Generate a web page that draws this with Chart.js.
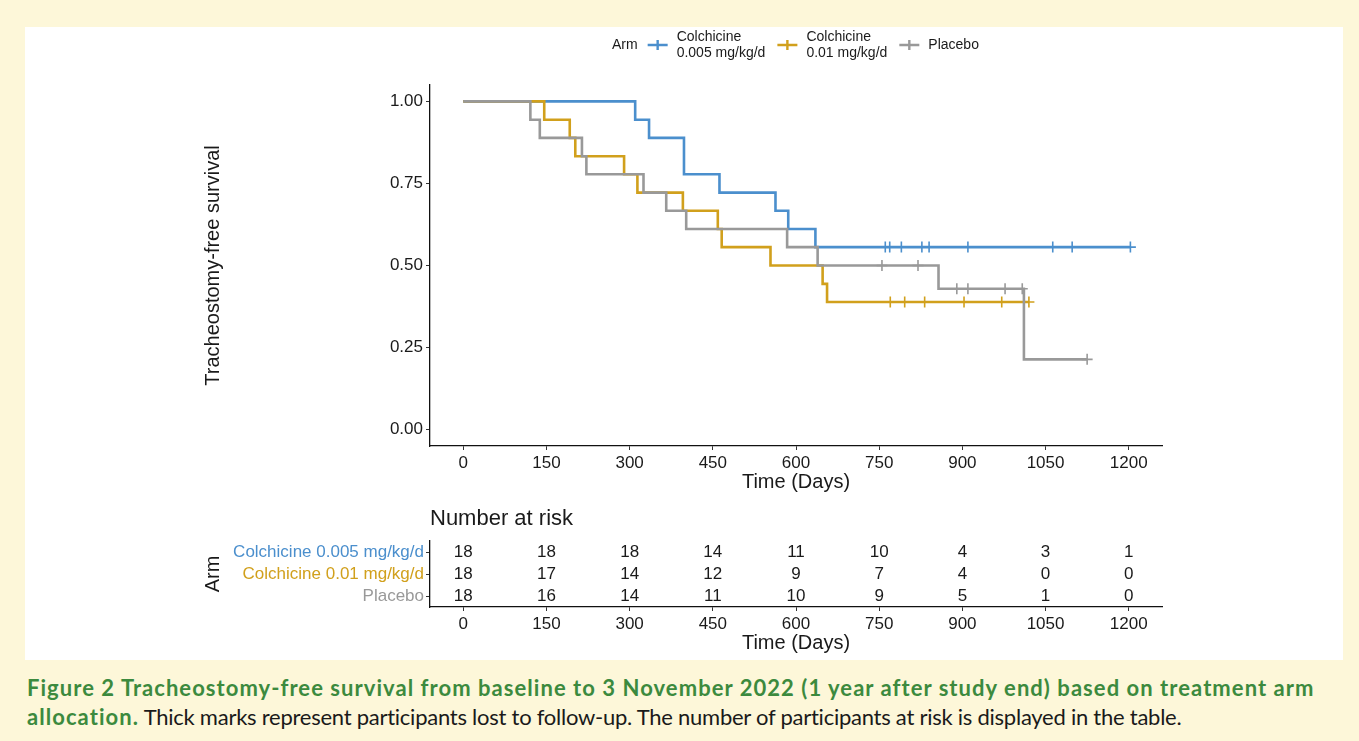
<!DOCTYPE html>
<html>
<head>
<meta charset="utf-8">
<title>Tracheostomy-free survival</title>
<script src="https://cdn.jsdelivr.net/npm/chart.js@4.4.1/dist/chart.umd.min.js"></script>
<style>
  body { margin: 0; width: 1359px; height: 741px; overflow: hidden; background: #fdf7d9; font-family: 'Liberation Sans', Arial, sans-serif; }
  #panel { position: absolute; left: 25px; top: 27px; width: 1318px; height: 633px; background: #fff; }
  #km { position: absolute; left: 0; top: 0; }
  #risk { position: absolute; left: 0; top: 500px; }
  #caption { position: absolute; left: 27px; top: 673px; width: 1330px; white-space: nowrap; font-family: Lato, sans-serif; font-size: 22px; line-height: 29px; color: #1a1a1a; letter-spacing: -0.25px; }
  #caption b { color: #3c8a3e; letter-spacing: 1.05px; }
</style>
</head>
<body>
<div id="panel"></div>
<canvas id="km" width="1359" height="500"></canvas>
<canvas id="risk" width="1359" height="160"></canvas>
<div id="caption"><b>Figure 2 Tracheostomy-free survival from baseline to 3 November 2022 (1 year after study end) based on treatment arm</b><br><b>allocation.</b> Thick marks represent participants lost to follow-up. The number of participants at risk is displayed in the table.</div>

<script>
// Axis ticks
const xTicks = [0, 150, 300, 450, 600, 750, 900, 1050, 1200];
const yTicks = [0, 0.25, 0.5, 0.75, 1];

// Arms
const armNames = ['Colchicine 0.005 mg/kg/d', 'Colchicine 0.01 mg/kg/d', 'Placebo'];
const legendLabels = [['Colchicine', '0.005 mg/kg/d'], ['Colchicine', '0.01 mg/kg/d'], ['Placebo']];
const armColors = ['#4b8fcd', '#d1a01c', '#999999'];

// Kaplan-Meier steps (day, survival after that day)
const lowTimes = [0, 310, 335, 398, 462, 563, 586, 635, 1203];
const lowSurv = [1, 0.944, 0.889, 0.778, 0.722, 0.667, 0.611, 0.556, 0.556];
const lowCensor = [761, 769, 790, 827, 840, 910, 1063, 1098, 1203];

const highTimes = [0, 146, 192, 202, 290, 314, 396, 459, 466, 554, 648, 656, 1020];
const highSurv = [1, 0.944, 0.889, 0.833, 0.778, 0.722, 0.667, 0.611, 0.556, 0.5, 0.444, 0.389, 0.389];
const highCensor = [770, 796, 832, 903, 971, 1020];

const placTimes = [0, 121, 138, 214, 222, 325, 366, 402, 584, 639, 857, 1011, 1125];
const placSurv = [1, 0.944, 0.889, 0.833, 0.778, 0.722, 0.667, 0.611, 0.556, 0.5, 0.429, 0.214, 0.214];
const placCensor = [755, 820, 890, 910, 977, 1008, 1125];

// Number at risk at each x tick
const riskLow = [18, 18, 18, 14, 11, 10, 4, 3, 1];
const riskHigh = [18, 17, 14, 12, 9, 7, 4, 0, 0];
const riskPlac = [18, 16, 14, 11, 10, 9, 5, 1, 0];

const tickFont = { family: 'Liberation Sans', size: 17 };
const titleFont = { family: 'Liberation Sans', size: 20 };
const inkColor = '#1a1a1a';

function survAt(times, surv, t) {
    let s = surv[0];
    for (let i = 0; i < times.length; i++) {
        if (times[i] <= t) s = surv[i];
    }
    return s;
}

function stepData(times, surv) {
    return times.map((t, i) => ({ x: t, y: surv[i] }));
}

function censorData(times, surv, censor) {
    return censor.map(t => ({ x: t, y: survAt(times, surv, t) }));
}

function curve(times, surv, color, order) {
    return {
        data: stepData(times, surv),
        showLine: true,
        stepped: 'before',
        borderColor: color,
        borderWidth: 2.6,
        pointRadius: 0,
        order: order
    };
}

function marks(times, surv, censor, color, order) {
    return {
        data: censorData(times, surv, censor),
        showLine: false,
        pointStyle: 'cross',
        pointRadius: 5.5,
        pointBorderWidth: 1.6,
        borderColor: color,
        order: order
    };
}

function xScale() {
    return {
        type: 'linear',
        min: -60,
        max: 1260,
        afterBuildTicks: s => { s.ticks = xTicks.map(v => ({ value: v })); },
        afterFit: s => { s.height = 50; },
        border: { display: true, color: '#111', width: 1.3 },
        grid: { drawOnChartArea: false, drawTicks: true, tickLength: 4, color: '#333' },
        ticks: { font: tickFont, color: inkColor, padding: 3, maxRotation: 0, autoSkip: false, callback: v => String(v) },
        title: { display: true, text: 'Time (Days)', font: titleFont, color: inkColor, padding: { top: 0, bottom: 2 } }
    };
}

// legend across the top
const legendPlugin = {
    id: 'armLegend',
    afterDraw(chart) {
        const ctx = chart.ctx;
        const midY = 45;
        ctx.save();
        ctx.font = '14px "Liberation Sans"';
        ctx.textBaseline = 'middle';
        ctx.textAlign = 'left';
        ctx.fillStyle = inkColor;
        let x = 612;
        ctx.fillText('Arm', x, midY);
        x += ctx.measureText('Arm').width + 10;
        legendLabels.forEach((lines, i) => {
            ctx.strokeStyle = armColors[i];
            ctx.lineWidth = 2.4;
            ctx.beginPath();
            ctx.moveTo(x, midY); ctx.lineTo(x + 20, midY);
            ctx.moveTo(x + 10, midY - 5); ctx.lineTo(x + 10, midY + 5);
            ctx.stroke();
            ctx.fillStyle = inkColor;
            let w = 0;
            lines.forEach((txt, k) => {
                const ty = lines.length === 1 ? midY : midY - 8 + k * 16;
                ctx.fillText(txt, x + 29, ty);
                w = Math.max(w, ctx.measureText(txt).width);
            });
            x += 29 + w + 12;
        });
        ctx.restore();
    }
};

new Chart(document.getElementById('km'), {
    type: 'scatter',
    data: {
        datasets: [
            curve(lowTimes, lowSurv, armColors[0], 4),
            curve(highTimes, highSurv, armColors[1], 2),
            curve(placTimes, placSurv, armColors[2], 0),
            marks(lowTimes, lowSurv, lowCensor, armColors[0], 5),
            marks(highTimes, highSurv, highCensor, armColors[1], 3),
            marks(placTimes, placSurv, placCensor, armColors[2], 1)
        ]
    },
    options: {
        responsive: false,
        animation: false,
        layout: { padding: { left: 0, right: 197, top: 85, bottom: 4 } },
        plugins: { legend: { display: false }, tooltip: { enabled: false } },
        scales: {
            x: xScale(),
            y: {
                min: -0.05,
                max: 1.05,
                afterBuildTicks: s => { s.ticks = yTicks.map(v => ({ value: v })); },
                afterFit: s => { s.width = 430; },
                border: { display: true, color: '#111', width: 1.3 },
                grid: { drawOnChartArea: false, drawTicks: true, tickLength: 4, color: '#333' },
                ticks: { font: tickFont, color: inkColor, padding: 3, callback: v => v.toFixed(2) },
                title: { display: true, text: 'Tracheostomy-free survival', font: titleFont, color: inkColor, padding: { top: 201, bottom: 0 } }
            }
        }
    },
    plugins: [legendPlugin]
});

// risk table numbers
const riskPlugin = {
    id: 'riskNumbers',
    afterDraw(chart) {
        const ctx = chart.ctx;
        const xs = chart.scales.x;
        const ys = chart.scales.y;
        const rows = [riskLow, riskHigh, riskPlac];
        ctx.save();
        ctx.fillStyle = inkColor;
        ctx.textAlign = 'center';
        ctx.textBaseline = 'middle';
        ctx.font = '17px "Liberation Sans"';
        rows.forEach((row, i) => {
            row.forEach((n, j) => {
                ctx.fillText(String(n), xs.getPixelForValue(xTicks[j]), ys.getPixelForValue(i));
            });
        });
        ctx.textAlign = 'left';
        ctx.font = '22px "Liberation Sans"';
        ctx.fillText('Number at risk', chart.chartArea.left, chart.chartArea.top - 22);
        ctx.restore();
    }
};

new Chart(document.getElementById('risk'), {
    type: 'scatter',
    data: { datasets: [] },
    options: {
        responsive: false,
        animation: false,
        layout: { padding: { left: 0, right: 197, top: 41, bottom: 3 } },
        plugins: { legend: { display: false }, tooltip: { enabled: false } },
        scales: {
            x: xScale(),
            y: {
                type: 'category',
                labels: armNames,
                offset: true,
                afterFit: s => { s.width = 430; },
                border: { display: true, color: '#111', width: 1.3 },
                grid: { drawOnChartArea: false, drawTicks: true, tickLength: 4, color: '#333', offset: false },
                ticks: { font: tickFont, padding: 2, autoSkip: false, color: c => armColors[c.index] },
                title: { display: true, text: 'Arm', font: titleFont, color: inkColor, padding: { top: 201, bottom: 0 } }
            }
        }
    },
    plugins: [riskPlugin]
});
</script>
</body>
</html>
